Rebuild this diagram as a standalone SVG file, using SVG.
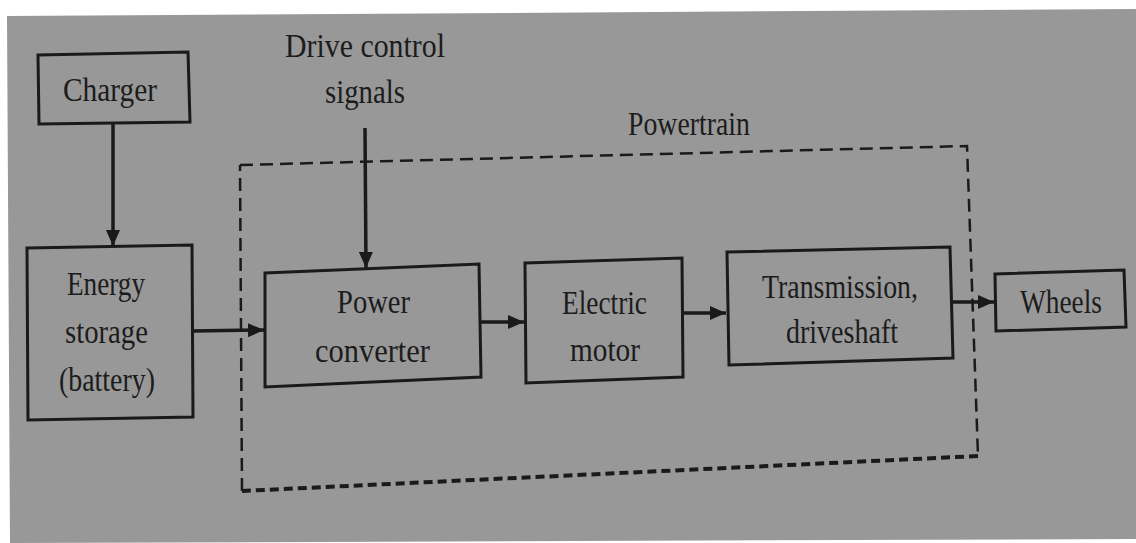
<svg xmlns="http://www.w3.org/2000/svg" width="1136" height="543" viewBox="0 0 1136 543">
  <style>
    .box { fill: none; stroke: #1a1a1a; stroke-width: 3; stroke-linejoin: miter; }
    .lbl { font-family: "Liberation Serif", "DejaVu Serif", serif; font-size: 34px; fill: #1c1c1c; text-anchor: start; }
    .conn { stroke: #1a1a1a; stroke-width: 3.5; fill: none; }
    .dash { stroke: #1a1a1a; stroke-width: 2.5; fill: none; stroke-dasharray: 13 7; }
  </style>
  <defs>
    <marker id="arr" markerUnits="userSpaceOnUse" markerWidth="18" markerHeight="14" refX="16" refY="7" orient="auto">
      <path d="M0,0 L16,7 L0,14 Z" fill="#1a1a1a"/>
    </marker>
  </defs>

  <rect width="1136" height="543" fill="#ffffff"/>
  <polygon points="7,16 1136,9 1136,539 10,543" fill="#989898"/>

  <g id="powertrain">
    <path class="dash" d="M240,165 L967,146 L978,456"/>
    <path class="dash" d="M978,456 L242,491" style="stroke-dasharray: 9 5; stroke-width: 4;"/>
    <path class="dash" d="M242,491 L240,165"/>
    <text class="lbl" x="628" y="135" textLength="122" lengthAdjust="spacingAndGlyphs">Powertrain</text>
  </g>

  <g id="drive-control">
    <text class="lbl" x="285" y="57" textLength="160" lengthAdjust="spacingAndGlyphs">Drive control</text>
    <text class="lbl" x="325" y="103" textLength="80" lengthAdjust="spacingAndGlyphs">signals</text>
  </g>

  <g id="charger">
    <polygon class="box" points="38,55 188,52 190,122 39,124"/>
    <text class="lbl" x="63" y="101" textLength="94" lengthAdjust="spacingAndGlyphs">Charger</text>
  </g>

  <g id="energy-storage">
    <polygon class="box" points="27,248 192,245 193,417 28,420"/>
    <text class="lbl" x="67" y="295" textLength="78" lengthAdjust="spacingAndGlyphs">Energy</text>
    <text class="lbl" x="65" y="343" textLength="83" lengthAdjust="spacingAndGlyphs">storage</text>
    <text class="lbl" x="59" y="391" textLength="96" lengthAdjust="spacingAndGlyphs">(battery)</text>
  </g>

  <g id="power-converter">
    <polygon class="box" points="265,273 479,264 481,377 265,387"/>
    <text class="lbl" x="337" y="313" textLength="73" lengthAdjust="spacingAndGlyphs">Power</text>
    <text class="lbl" x="315" y="362" textLength="115" lengthAdjust="spacingAndGlyphs">converter</text>
  </g>

  <g id="electric-motor">
    <polygon class="box" points="525,263 682,258 683,377 526,383"/>
    <text class="lbl" x="562" y="314" textLength="85" lengthAdjust="spacingAndGlyphs">Electric</text>
    <text class="lbl" x="570" y="361" textLength="70" lengthAdjust="spacingAndGlyphs">motor</text>
  </g>

  <g id="transmission">
    <polygon class="box" points="727,252 950,247 953,358 729,365"/>
    <text class="lbl" x="762" y="298" textLength="156" lengthAdjust="spacingAndGlyphs">Transmission,</text>
    <text class="lbl" x="786" y="343" textLength="112" lengthAdjust="spacingAndGlyphs">driveshaft</text>
  </g>

  <g id="wheels">
    <polygon class="box" points="995,274 1124,270 1126,327 996,331"/>
    <text class="lbl" x="1020" y="313" textLength="82" lengthAdjust="spacingAndGlyphs">Wheels</text>
  </g>

  <g id="connectors">
    <line class="conn" x1="113" y1="124" x2="113" y2="246" marker-end="url(#arr)"/>
    <line class="conn" x1="365" y1="128" x2="366" y2="268" marker-end="url(#arr)"/>
    <line class="conn" x1="193" y1="331" x2="264" y2="330" marker-end="url(#arr)"/>
    <line class="conn" x1="481" y1="322" x2="524" y2="322" marker-end="url(#arr)"/>
    <line class="conn" x1="683" y1="313" x2="726" y2="313" marker-end="url(#arr)"/>
    <line class="conn" x1="953" y1="302" x2="994" y2="302" marker-end="url(#arr)"/>
  </g>
</svg>
